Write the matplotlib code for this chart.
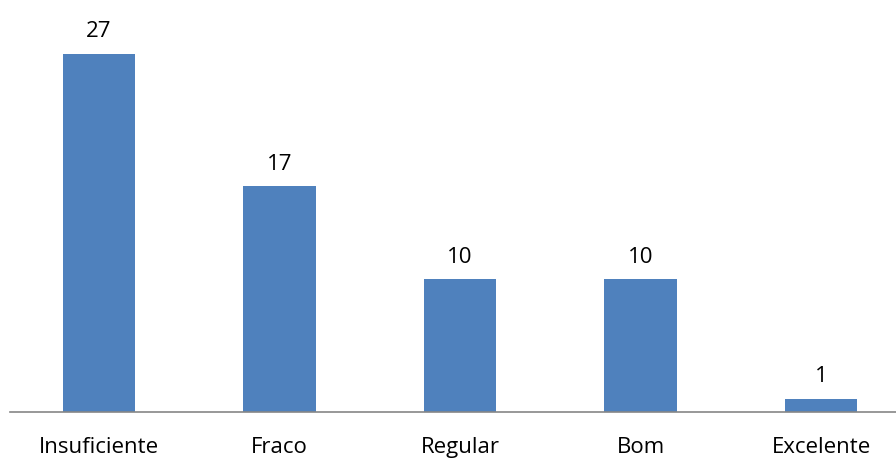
import numpy as np
import matplotlib.pyplot as plt

categorias = ['Insuficiente', 'Fraco', 'Regular', 'Bom', 'Excelente']
valores = [27, 17, 10, 10, 1]

plt.rcParams['font.family'] = ['Open Sans', 'DejaVu Sans']

fig = plt.figure(figsize=(8.96, 4.59), dpi=100)
ax = fig.add_axes([10/896, 47/459, 886/896, 398/459])
x = np.arange(len(categorias))
barras = ax.bar(x, valores, width=0.4, color='#4F81BD')
for xi, v in zip(x, valores):
    ax.annotate(str(v), (xi, v), xytext=(0, 12), textcoords='offset points',
                ha='center', va='baseline', fontsize=16)
ax.set_xlim(-89/180.5, (896-99)/180.5)
ax.set_ylim(0, 30)
ax.set_xticks(x)
ax.set_xticklabels(categorias, fontsize=16)
ax.tick_params(axis='x', length=0, pad=18)
ax.set_yticks([])
for s in ['top', 'right', 'left']:
    ax.spines[s].set_visible(False)
ax.spines['bottom'].set_color('#868686')
ax.spines['bottom'].set_linewidth(1.2)
fig.savefig('out.png', dpi=100)
